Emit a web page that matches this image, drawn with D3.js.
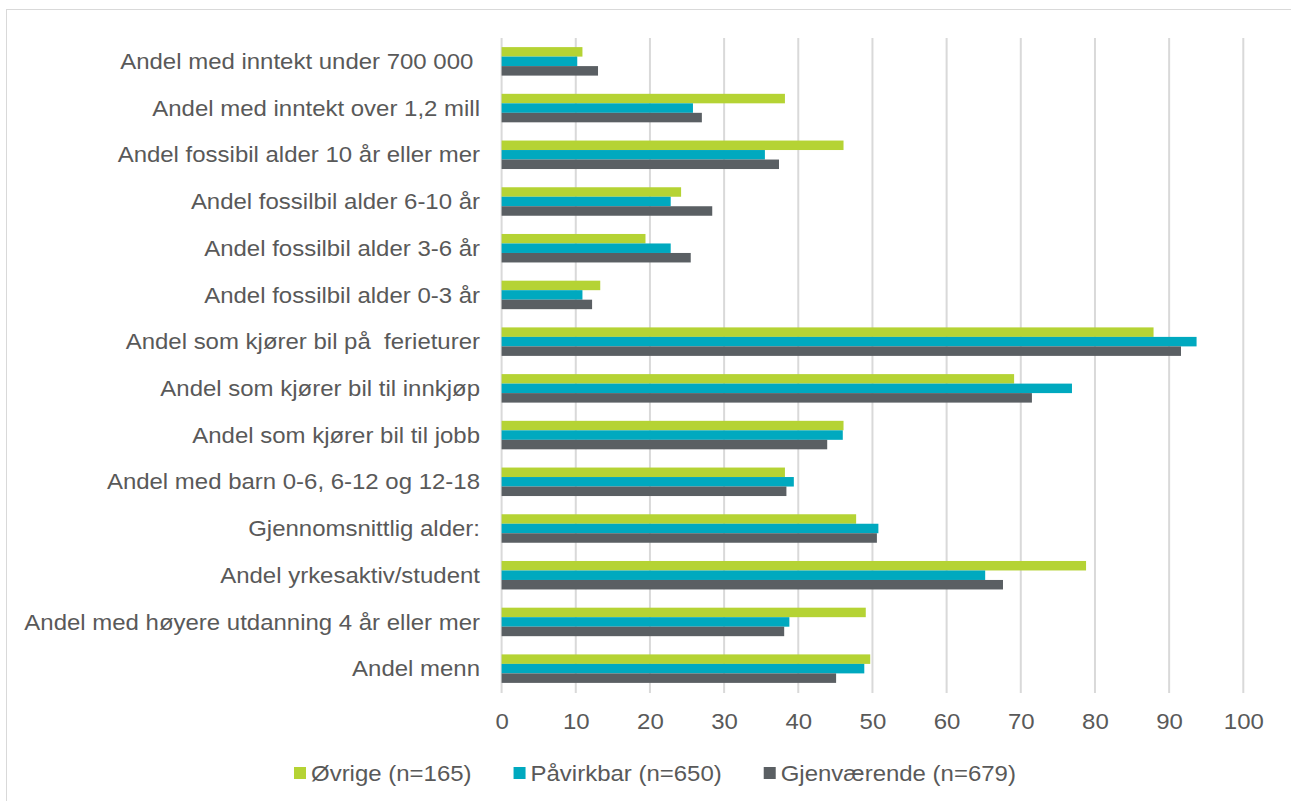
<!DOCTYPE html>
<html>
<head>
<meta charset="utf-8">
<script src="https://cdn.jsdelivr.net/npm/d3@7/dist/d3.min.js"></script>
<style>
  html, body { margin: 0; padding: 0; background: #fff; }
  svg { display: block; }
  text { font-family: "Liberation Sans", Arial, sans-serif; fill: #595959; }
</style>
</head>
<body>
<svg id="chart" width="1291" height="801"></svg>
<script>
// Category labels, top to bottom
const categories = [
  "Andel med inntekt under 700 000 ",
  "Andel med inntekt over 1,2 mill",
  "Andel fossibil alder 10 år eller mer",
  "Andel fossilbil alder 6-10 år",
  "Andel fossilbil alder 3-6 år",
  "Andel fossilbil alder 0-3 år",
  "Andel som kjører bil på  ferieturer",
  "Andel som kjører bil til innkjøp",
  "Andel som kjører bil til jobb",
  "Andel med barn 0-6, 6-12 og 12-18",
  "Gjennomsnittlig alder:",
  "Andel yrkesaktiv/student",
  "Andel med høyere utdanning 4 år eller mer",
  "Andel menn"
];

// Series names (legend order)
const seriesNames = ["Øvrige (n=165)", "Påvirkbar (n=650)", "Gjenværende (n=679)"];

// Values per series, same order as categories
const ovrige      = [10.9, 38.2, 46.1, 24.2, 19.4, 13.3, 87.9, 69.1, 46.1, 38.2, 47.8, 78.8, 49.1, 49.7];
const pavirkbar   = [10.2, 25.8, 35.5, 22.8, 22.8, 10.9, 93.7, 76.9, 46.0, 39.4, 50.8, 65.2, 38.8, 48.9];
const gjenvaerende = [13.0, 27.0, 37.4, 28.4, 25.5, 12.2, 91.6, 71.5, 43.9, 38.4, 50.6, 67.6, 38.1, 45.1];

// Axis ticks
const xTicks = [0, 10, 20, 30, 40, 50, 60, 70, 80, 90, 100];

const colors = ["#b5d334", "#00a9bf", "#5a5f63"];
const seriesValues = [ovrige, pavirkbar, gjenvaerende];

const svg = d3.select("#chart");
const STRETCH = 1.09; // slight horizontal widening of the text glyphs

// Outer frame
svg.append("rect")
  .attr("x", 6.5).attr("y", 9.5)
  .attr("width", 1320).attr("height", 820)
  .attr("fill", "none")
  .attr("stroke", "#d9d9d9")
  .attr("stroke-width", 1);

const x = d3.scaleLinear().domain([0, 100]).range([501.6, 1243.3]);
const y0 = d3.scaleBand().domain(categories).range([38, 692])
  .paddingInner(0.39).paddingOuter(0.195);
const y1 = d3.scaleBand().domain(seriesNames).range([0, y0.bandwidth()]);

// Vertical gridlines
svg.append("g").selectAll("line")
  .data(xTicks)
  .join("line")
  .attr("x1", d => x(d)).attr("x2", d => x(d))
  .attr("y1", 38).attr("y2", 693)
  .attr("stroke", "#d9d9d9")
  .attr("stroke-width", 2);

// Bars
const groups = svg.append("g").selectAll("g")
  .data(categories)
  .join("g")
  .attr("transform", d => `translate(0,${y0(d)})`);

groups.selectAll("rect")
  .data((c, i) => seriesNames.map((s, k) => ({ s, k, v: seriesValues[k][i] })))
  .join("rect")
  .attr("x", x(0))
  .attr("y", d => y1(d.s))
  .attr("width", d => x(d.v) - x(0))
  .attr("height", y1.bandwidth())
  .attr("fill", d => colors[d.k]);

// Category labels
svg.append("g").selectAll("text")
  .data(categories)
  .join("text")
  .attr("transform", d => `translate(480,${y0(d) + y0.bandwidth() / 2}) scale(${STRETCH},1)`)
  .attr("text-anchor", "end")
  .attr("dominant-baseline", "central")
  .style("white-space", "pre")
  .style("font-size", "22px")
  .text(d => d);

// X axis tick labels
const xAxis = d3.axisBottom(x).tickValues(xTicks).tickSize(0).tickPadding(0);
const axisG = svg.append("g").attr("transform", "translate(0,721)").call(xAxis);
axisG.select(".domain").remove();
axisG.selectAll("text")
  .attr("y", 0).attr("dy", null)
  .attr("dominant-baseline", "central")
  .attr("transform", `scale(${STRETCH},1)`)
  .style("font-size", "22px")
  .style("font-family", "'Liberation Sans', Arial, sans-serif")
  .attr("fill", "#595959");

// Legend
const legend = svg.append("g").attr("transform", "translate(294,773)");
let cursor = 0;
seriesNames.forEach((name, k) => {
  const item = legend.append("g").attr("transform", `translate(${cursor},0)`);
  item.append("rect")
    .attr("x", 0).attr("y", -6)
    .attr("width", 12).attr("height", 12)
    .attr("fill", colors[k]);
  const t = item.append("text")
    .attr("transform", `translate(17,0) scale(${STRETCH},1)`)
    .attr("dominant-baseline", "central")
    .style("font-size", "22px")
    .text(name);
  const w = t.node().getComputedTextLength() * STRETCH;
  cursor += 17 + w + 42;
});
</script>
</body>
</html>
